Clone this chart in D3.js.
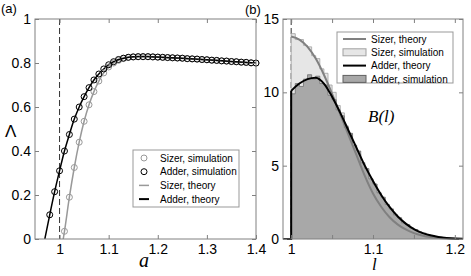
<!DOCTYPE html>
<html lang="en">
<head>
  <meta charset="UTF-8">
  <title>Sizer vs Adder</title>
  <script src="https://d3js.org/d3.v7.min.js"></script>
  <style type="text/css">
    body { margin: 0; background: #fff; }
    text { font-family: "Liberation Sans", Arial, sans-serif; }
    .serif { font-family: "Liberation Serif", "Times New Roman", serif; font-style: italic; }
  </style>
</head>
<body>
<script type="text/javascript">
  // ---- panel (a) data ----
  var aSimAdder = [0.98,0.99,1.00,1.01,1.02,1.03,1.04,1.05,1.06,1.07,1.08,1.09,1.10,1.11,1.12,1.13,1.14,1.15,1.16,1.17,1.18,1.19,1.20,
                   1.21,1.22,1.23,1.24,1.25,1.26,1.27,1.28,1.29,1.30,1.31,1.32,1.33,1.34,1.35,1.36,1.37,1.38,1.39,1.40];
  var lamSimAdder = [0.11,0.215,0.31,0.40,0.475,0.545,0.60,0.647,0.688,0.723,0.750,0.773,0.792,0.806,0.816,0.822,0.826,0.828,0.829,0.829,0.829,0.828,0.827,
                     0.826,0.825,0.824,0.823,0.822,0.820,0.819,0.818,0.816,0.815,0.813,0.812,0.810,0.809,0.807,0.806,0.804,0.803,0.801,0.800];
  var aSimSizer = [1.01,1.02,1.03,1.04,1.05,1.06,1.07,1.08,1.09,1.10,1.11,1.12,1.13,1.14,1.15,1.16,1.17,1.18,1.19,1.20,
                   1.21,1.22,1.23,1.24,1.25,1.26,1.27,1.28,1.29,1.30,1.31,1.32,1.33,1.34,1.35,1.36,1.37,1.38,1.39,1.40];
  var lamSimSizer = [0.035,0.19,0.325,0.44,0.535,0.61,0.67,0.718,0.755,0.782,0.800,0.812,0.820,0.825,0.827,0.828,0.828,0.828,0.827,0.826,
                     0.825,0.824,0.823,0.822,0.821,0.819,0.818,0.817,0.815,0.814,0.812,0.811,0.809,0.808,0.806,0.805,0.803,0.802,0.800,0.799];
  var aThAdder = [0.97,0.98,0.99,1.00,1.01,1.02,1.03,1.04,1.05,1.06,1.07,1.08,1.09,1.10,1.11,1.12,1.13,1.14,1.16,1.18,1.20,1.25,1.30,1.35,1.40];
  var lamThAdder = [0,0.11,0.215,0.31,0.40,0.475,0.545,0.60,0.647,0.688,0.723,0.750,0.773,0.792,0.806,0.816,0.822,0.826,0.829,0.829,0.827,0.822,0.815,0.807,0.800];
  var aThSizer = [1.0075,1.01,1.02,1.03,1.04,1.05,1.06,1.07,1.08,1.09,1.10,1.11,1.12,1.13,1.14,1.16,1.18,1.20,1.25,1.30,1.35,1.40];
  var lamThSizer = [0,0.035,0.19,0.325,0.44,0.535,0.61,0.67,0.718,0.755,0.782,0.800,0.812,0.820,0.825,0.828,0.828,0.826,0.821,0.814,0.806,0.799];
  var aTicks = [1,1.1,1.2,1.3,1.4];
  var lamTicks = [0,0.2,0.4,0.6,0.8,1];

  // ---- panel (b) data ----
  var binEdges = [1.000,1.005,1.010,1.015,1.020,1.025,1.030,1.035,1.040,1.045,1.050,1.055,1.060,1.065,1.070,1.075,1.080,1.085,1.090,1.095,
                  1.100,1.105,1.110,1.115,1.120,1.125,1.130,1.135,1.140,1.145,1.150,1.155,1.160,1.165,1.170,1.175,1.180,1.185,1.190,1.195,1.200];
  var histSizer = [14.0,13.6,13.6,13.2,13.1,12.5,12.3,11.6,11.3,10.5,10.0,9.1,8.6,7.7,7.2,6.3,5.8,4.9,4.4,3.6,
                   3.2,2.6,2.25,1.8,1.55,1.2,1.05,0.78,0.66,0.48,0.41,0.29,0.25,0.17,0.14,0.09,0.07,0.05,0.03,0.02];
  var histAdder = [9.9,10.6,10.4,10.9,11.2,10.9,11.1,10.6,10.5,9.8,9.5,8.8,8.4,7.6,7.2,6.4,6.0,5.2,4.8,4.1,
                   3.75,3.15,2.85,2.35,2.05,1.65,1.45,1.1,0.98,0.75,0.64,0.48,0.4,0.28,0.23,0.15,0.13,0.08,0.06,0.04];
  var lTheory = [1.00,1.01,1.02,1.03,1.04,1.05,1.06,1.07,1.08,1.09,1.10,1.11,1.12,1.13,1.14,1.15,1.16,1.17,1.18,1.19,1.20,1.21];
  var bSizer = [13.8,13.6,13.1,12.3,11.2,9.9,8.5,7.1,5.7,4.3,3.1,2.2,1.5,1.0,0.65,0.4,0.24,0.13,0.07,0.03,0.01,0.005];
  var bAdder = [10.1,10.6,10.9,11.0,10.6,9.7,8.6,7.4,6.2,5.0,3.95,3.0,2.2,1.55,1.05,0.68,0.42,0.25,0.14,0.07,0.03,0.015];
  var lTicks = [1,1.05,1.1,1.15,1.2];
  var lLabels = ["1","","1.1","","1.2"];
  var bTicks = [0,5,10,15];

  var W = 471, H = 276;
  var svg = d3.select("body").append("svg").attr("width", W).attr("height", H);
  svg.append("rect").attr("width", W).attr("height", H).attr("fill", "#fff");

  var boxColor = "#808080";

  function frame(g, x, y, xt, xfmt, yt, yfmt) {
    var x0 = x.range()[0], x1 = x.range()[1], y0 = y.range()[0], y1 = y.range()[1];
    g.append("g").attr("transform", "translate(0," + y0 + ")")
      .call(d3.axisBottom(x).tickValues(xt).tickFormat(xfmt).tickSizeInner(-4).tickSizeOuter(0).tickPadding(5));
    g.append("g").attr("transform", "translate(0," + y1 + ")")
      .call(d3.axisTop(x).tickValues(xt).tickFormat("").tickSizeInner(-4).tickSizeOuter(0));
    g.append("g").attr("transform", "translate(" + x0 + ",0)")
      .call(d3.axisLeft(y).tickValues(yt).tickFormat(yfmt).tickSizeInner(-4).tickSizeOuter(0).tickPadding(4));
    g.append("g").attr("transform", "translate(" + x1 + ",0)")
      .call(d3.axisRight(y).tickValues(yt).tickFormat("").tickSizeInner(-4).tickSizeOuter(0));
    g.selectAll(".domain").remove();
    g.selectAll(".tick line").attr("stroke", boxColor);
    g.selectAll(".tick text").attr("font-size", 14).attr("fill", "#000")
      .attr("font-family", "Liberation Sans, Arial, sans-serif");
    g.append("rect").attr("x", x0).attr("y", y1).attr("width", x1 - x0).attr("height", y0 - y1)
      .attr("fill", "none").attr("stroke", boxColor).attr("stroke-width", 1);
  }

  // ================= panel (a) =================
  var xa = d3.scaleLinear().domain([0.95, 1.4]).range([35, 256]);
  var ya = d3.scaleLinear().domain([0, 1]).range([239, 19]);
  var ga = svg.append("g");
  svg.append("clipPath").attr("id", "clipA").append("rect")
    .attr("x", 35).attr("y", 19).attr("width", 221).attr("height", 220);

  ga.append("line").attr("x1", xa(1)).attr("x2", xa(1)).attr("y1", ya(1)).attr("y2", ya(0))
    .attr("stroke", "#333").attr("stroke-dasharray", "6,3");

  var lineA = d3.line().x(function(d){ return xa(d[0]); }).y(function(d){ return ya(d[1]); }).curve(d3.curveMonotoneX);
  ga.append("path").datum(d3.zip(aThSizer, lamThSizer)).attr("d", lineA)
    .attr("fill", "none").attr("stroke", "#999").attr("stroke-width", 1.5).attr("clip-path", "url(#clipA)");
  ga.append("path").datum(d3.zip(aThAdder, lamThAdder)).attr("d", lineA)
    .attr("fill", "none").attr("stroke", "#000").attr("stroke-width", 1.5).attr("clip-path", "url(#clipA)");

  ga.selectAll("circle.sizer").data(d3.zip(aSimSizer, lamSimSizer)).enter().append("circle")
    .attr("cx", function(d){ return xa(d[0]); }).attr("cy", function(d){ return ya(d[1]); }).attr("r", 3)
    .attr("fill", "none").attr("stroke", "#999").attr("stroke-width", 1);
  ga.selectAll("circle.adder").data(d3.zip(aSimAdder, lamSimAdder)).enter().append("circle")
    .attr("cx", function(d){ return xa(d[0]); }).attr("cy", function(d){ return ya(d[1]); }).attr("r", 3)
    .attr("fill", "none").attr("stroke", "#000").attr("stroke-width", 1);

  frame(ga, xa, ya, aTicks, function(d){ return d3.format("")(d); }, lamTicks, function(d){ return d3.format("")(d); });

  // legend (a)
  var la = svg.append("g");
  la.append("rect").attr("x", 133).attr("y", 150).attr("width", 106).attr("height", 57)
    .attr("fill", "#fff").attr("stroke", "#999");
  var legA = [
    {t: "Sizer, simulation", kind: "c", c: "#999"},
    {t: "Adder, simulation", kind: "c", c: "#000"},
    {t: "Sizer, theory", kind: "l", c: "#999"},
    {t: "Adder, theory", kind: "l", c: "#000"}
  ];
  legA.forEach(function(e, i) {
    var yy = 158 + i * 13.7;
    if (e.kind === "c") {
      la.append("circle").attr("cx", 144).attr("cy", yy).attr("r", 3).attr("fill", "none").attr("stroke", e.c);
    } else {
      la.append("line").attr("x1", 139).attr("x2", 149).attr("y1", yy).attr("y2", yy)
        .attr("stroke", e.c).attr("stroke-width", e.c === "#000" ? 2 : 1.5);
    }
    la.append("text").attr("x", 160).attr("y", yy + 3.6).attr("font-size", 10).text(e.t);
  });

  // ================= panel (b) =================
  var xb = d3.scaleLinear().domain([0.99, 1.21]).range([283, 463]);
  var yb = d3.scaleLinear().domain([0, 15]).range([239, 19]);
  var gb = svg.append("g");

  gb.append("line").attr("x1", xb(1)).attr("x2", xb(1)).attr("y1", yb(15)).attr("y2", yb(0))
    .attr("stroke", "#333").attr("stroke-dasharray", "6,3");

  function stepData(vals) {
    var pts = [[binEdges[0], 0]];
    vals.forEach(function(v, i) { pts.push([binEdges[i], v]); pts.push([binEdges[i + 1], v]); });
    pts.push([binEdges[binEdges.length - 1], 0]);
    return pts;
  }
  var lineB = d3.line().x(function(d){ return xb(d[0]); }).y(function(d){ return yb(d[1]); });
  gb.append("path").datum(stepData(histSizer)).attr("d", lineB)
    .attr("fill", "#e6e6e6").attr("stroke", "#a0a0a0").attr("stroke-width", 0.8);
  gb.append("path").datum(stepData(histAdder)).attr("d", lineB)
    .attr("fill", "#a8a8a8").attr("stroke", "#707070").attr("stroke-width", 0.8);

  var curveB = d3.line().x(function(d){ return xb(d[0]); }).y(function(d){ return yb(d[1]); }).curve(d3.curveMonotoneX);
  gb.append("path").datum(d3.zip(lTheory, bSizer)).attr("d", curveB)
    .attr("fill", "none").attr("stroke", "#808080").attr("stroke-width", 2);
  gb.append("path").datum([[0.99, 0], [1, 0], [1, bAdder[0]]]).attr("d", lineB)
    .attr("fill", "none").attr("stroke", "#000").attr("stroke-width", 2);
  gb.append("path").datum(d3.zip(lTheory, bAdder)).attr("d", curveB)
    .attr("fill", "none").attr("stroke", "#000").attr("stroke-width", 2);

  frame(gb, xb, yb, lTicks, function(d, i){ return lLabels[i]; }, bTicks, function(d){ return d; });

  // legend (b)
  var lb = svg.append("g");
  lb.append("rect").attr("x", 337).attr("y", 32).attr("width", 116).attr("height", 51)
    .attr("fill", "#fff").attr("stroke", "#999");
  var legB = [
    {t: "Sizer, theory", kind: "l", c: "#808080"},
    {t: "Sizer, simulation", kind: "p", c: "#e6e6e6", s: "#a0a0a0"},
    {t: "Adder, theory", kind: "l", c: "#000"},
    {t: "Adder, simulation", kind: "p", c: "#a8a8a8", s: "#606060"}
  ];
  legB.forEach(function(e, i) {
    var yy = 39 + i * 13.3;
    if (e.kind === "l") {
      lb.append("line").attr("x1", 343).attr("x2", 366).attr("y1", yy).attr("y2", yy)
        .attr("stroke", e.c).attr("stroke-width", 2);
    } else {
      lb.append("rect").attr("x", 343).attr("y", yy - 3.5).attr("width", 23).attr("height", 7)
        .attr("fill", e.c).attr("stroke", e.s);
    }
    lb.append("text").attr("x", 371).attr("y", yy + 3.6).attr("font-size", 10).text(e.t);
  });

  // labels
  svg.append("text").attr("x", 1).attr("y", 13).attr("font-size", 13).text("(a)");
  svg.append("text").attr("x", 245).attr("y", 14).attr("font-size", 13).text("(b)");
  svg.append("text").attr("x", 5).attr("y", 137).attr("font-size", 17)
    .attr("font-family", "Liberation Serif, serif").text("Λ");
  svg.append("text").attr("class", "serif").attr("x", 139).attr("y", 267).attr("font-size", 20).text("a");
  svg.append("text").attr("class", "serif").attr("x", 372).attr("y", 270).attr("font-size", 17).text("l");
  svg.append("text").attr("class", "serif").attr("x", 368).attr("y", 122).attr("font-size", 17).text("B(l)");
</script>
</body>
</html>
